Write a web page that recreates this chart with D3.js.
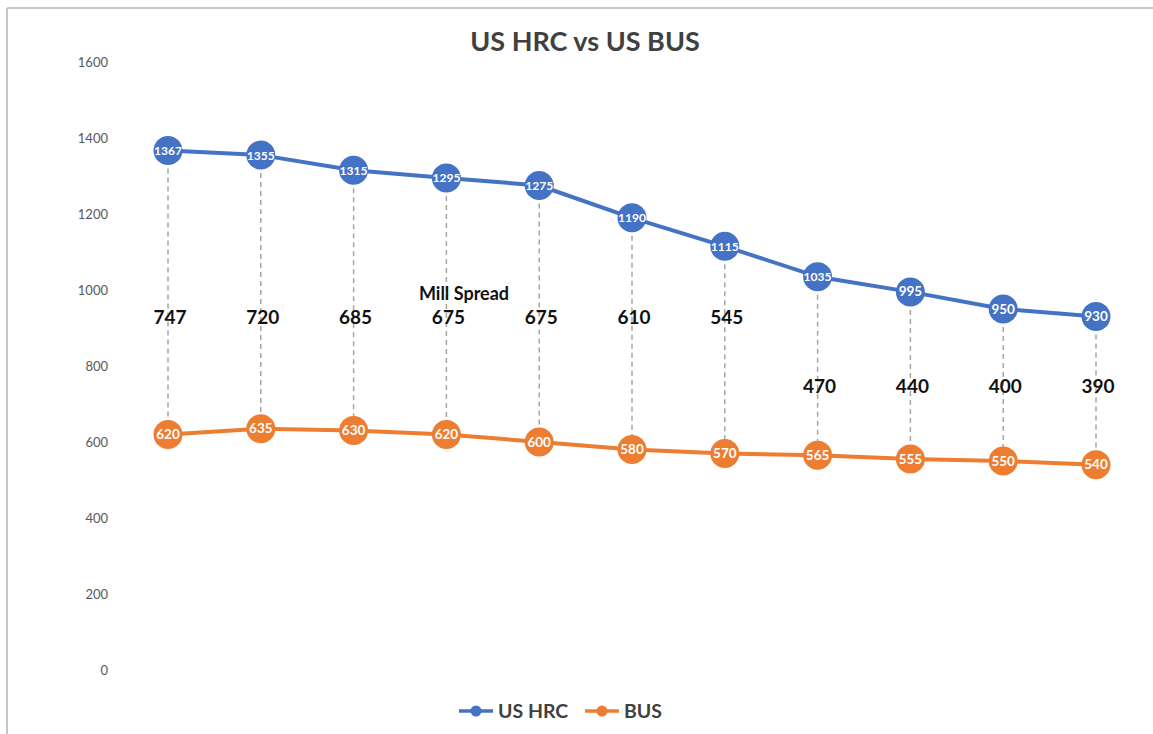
<!DOCTYPE html>
<html><head><meta charset="utf-8">
<script src="https://cdn.jsdelivr.net/npm/d3@7"></script>
<style>body{margin:0;background:#fff}svg{display:block}text{font-family:Lato,"Open Sans",sans-serif}</style>
</head><body><svg id="c" width="1153" height="734"></svg>
<script>
const categories = ["1","2","3","4","5","6","7","8","9","10","11"];
const hrc = [1367,1355,1315,1295,1275,1190,1115,1035,995,950,930];
const bus = [620,635,630,620,600,580,570,565,555,550,540];
const spread = [747,720,685,675,675,610,545,470,440,400,390];
const yTicks = [0,200,400,600,800,1000,1200,1400,1600];
const seriesNames = ["US HRC","BUS"];
const colors = ["#4472C4","#ED7D31"];

const svg = d3.select("#c");
// frame
svg.append("line").attr("x1",7).attr("x2",1153).attr("y1",8).attr("y2",8).attr("stroke","#c8c8c8").attr("stroke-width",2);
svg.append("line").attr("x1",7).attr("x2",7).attr("y1",8).attr("y2",734).attr("stroke","#c8c8c8").attr("stroke-width",2);

const x = d3.scalePoint().domain(categories).range([121.6,1142.4]).padding(0.5);
const y = d3.scaleLinear().domain([0,1600]).range([670,62]);

svg.append("text").attr("x",585).attr("y",51).attr("text-anchor","middle")
  .attr("font-size",27).attr("font-weight","bold").attr("fill","#404040").text("US HRC vs US BUS");

const ax = svg.append("g").attr("transform","translate(108,0)")
  .call(d3.axisLeft(y).tickValues(yTicks).tickFormat(d3.format("d")).tickSize(0).tickPadding(0));
ax.select(".domain").remove();
ax.selectAll("text").attr("font-size",13).attr("fill","#595959").attr("font-family","Lato,'Open Sans',sans-serif");

// drop lines
svg.append("g").selectAll("line").data(categories).join("line")
  .attr("x1",d=>x(d)).attr("x2",d=>x(d))
  .attr("y1",(d,i)=>y(hrc[i])).attr("y2",(d,i)=>y(bus[i]))
  .attr("stroke","#a5a5a5").attr("stroke-width",1.5).attr("stroke-dasharray","5,4");

// spread labels
svg.append("g").selectAll("text").data(spread).join("text")
  .attr("x",(d,i)=>x(categories[i])+2)
  .attr("y",(d,i)=> i<7 ? y(930)+7 : y(748)+7)
  .attr("text-anchor","middle").attr("font-size",19).attr("font-weight","bold").attr("fill","#111")
  .text(d=>d);
svg.append("text").attr("x",464).attr("y",300).attr("text-anchor","middle")
  .attr("font-size",18).attr("font-weight","bold").attr("fill","#111").text("Mill Spread");

const line = d3.line().x((d,i)=>x(categories[i])).y(d=>y(d));
[hrc,bus].forEach((s,k)=>{
  const g = svg.append("g");
  g.append("path").datum(s).attr("d",line).attr("fill","none").attr("stroke",colors[k]).attr("stroke-width",4).attr("stroke-linejoin","round");
  g.selectAll("circle").data(s).join("circle")
    .attr("cx",(d,i)=>x(categories[i])).attr("cy",d=>y(d)).attr("r",14.5).attr("fill",colors[k]);
  g.selectAll("text").data(s).join("text")
    .attr("x",(d,i)=>x(categories[i])).attr("y",d=>y(d)+4.5)
    .attr("text-anchor","middle").attr("font-weight","bold").attr("fill","#fff")
    .attr("font-size",d=>d>=1000?12:13.5)
    .attr("textLength",d=>d>=1000?28:null).attr("lengthAdjust","spacingAndGlyphs")
    .text(d=>d);
});

// legend
const leg = svg.append("g");
const lx = [459,585];
seriesNames.forEach((n,k)=>{
  leg.append("line").attr("x1",lx[k]).attr("x2",lx[k]+34).attr("y1",711).attr("y2",711).attr("stroke",colors[k]).attr("stroke-width",3.5);
  leg.append("circle").attr("cx",lx[k]+17).attr("cy",711).attr("r",5.5).attr("fill",colors[k]);
  leg.append("text").attr("x",lx[k]+39).attr("y",718).attr("font-size",19.5).attr("font-weight","bold").attr("fill","#404040").text(n);
});
</script></body></html>
